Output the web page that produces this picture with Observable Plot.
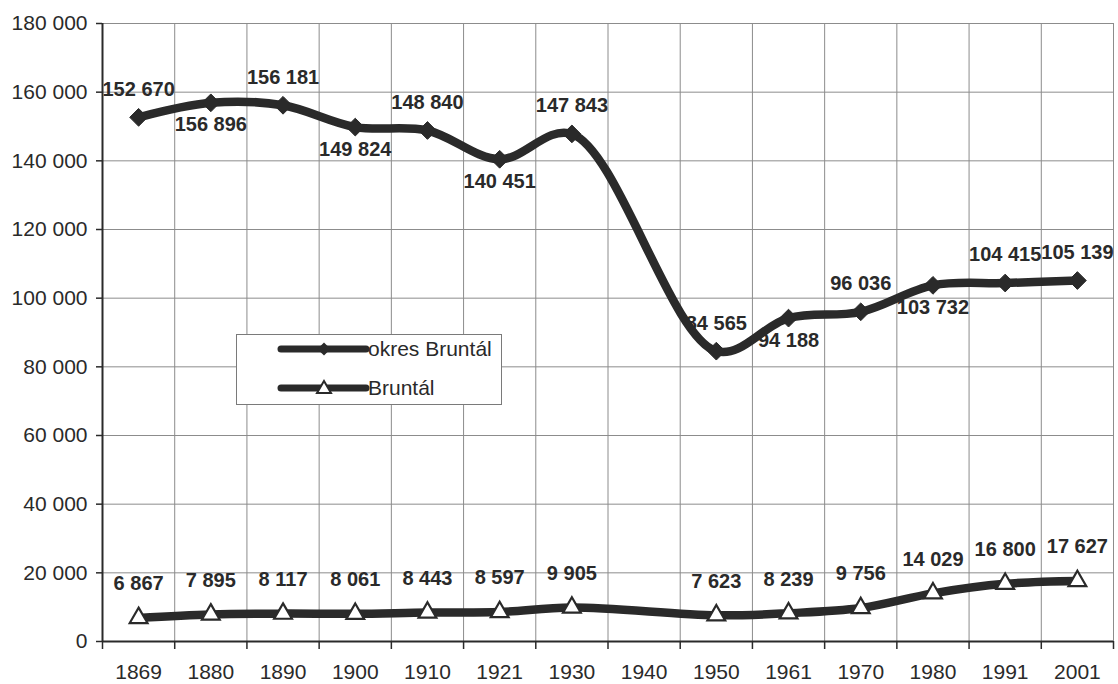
<!DOCTYPE html>
<html>
<head>
<meta charset="utf-8">
<script src="https://cdn.jsdelivr.net/npm/d3@7"></script>
<script src="https://cdn.jsdelivr.net/npm/@observablehq/plot@0.6"></script>
<style>
  html, body { margin: 0; padding: 0; background: #fff; }
  #wrap { position: relative; width: 1118px; height: 684px; font-family: "Liberation Sans", Arial, sans-serif; color: #2a2a2a; }
  #legend { position: absolute; left: 236px; top: 334px; width: 266px; height: 71px; background: #fff; border: 1px solid #7a7a7a; box-sizing: border-box; }
  #legend svg { position: absolute; left: 0; top: 0; }
</style>
</head>
<body>
<div id="wrap"></div>
<script>
// ---- data ----
const years   = ["1869","1880","1890","1900","1910","1921","1930","1940","1950","1961","1970","1980","1991","2001"];
const okres   = [152670,156896,156181,149824,148840,140451,147843,null,84565,94188,96036,103732,104415,105139];
const bruntal = [6867,7895,8117,8061,8443,8597,9905,null,7623,8239,9756,14029,16800,17627];
const seriesNames = ["okres Bruntál", "Bruntál"];
const yTicks = [0,20000,40000,60000,80000,100000,120000,140000,160000,180000];

// ---- presentation ----
const ink = "#2a2a2a";
const gridColor = "#8c8c8c";
const fmt = d => d3.format(",")(d).replace(/,/g, " ");
const okresLabelBelow = new Set(["1880","1900","1921","1961","1980"]);

const rows = (vals) => years.map((year, i) => ({i, year, value: vals[i]})).filter(d => d.value != null);
const okresRows = rows(okres);
const bruntalRows = rows(bruntal);
const centers = years.map((_, i) => i);
const bounds = d3.range(-0.5, years.length, 1);      // category boundaries
const innerBounds = bounds.slice(1);

const chart = Plot.plot({
  width: 1118,
  height: 684,
  marginLeft: 102,
  marginRight: 5,
  marginTop: 23,
  marginBottom: 43,
  style: { fontFamily: "'Liberation Sans', Arial, sans-serif", fontSize: "21px", color: ink, background: "#fff", overflow: "visible" },
  x: { type: "linear", domain: [-0.5, years.length - 0.5], axis: null },
  y: { domain: [0, 180000], axis: null },
  marks: [
    // grid
    Plot.ruleY(yTicks.slice(1), { stroke: gridColor, strokeWidth: 1 }),
    Plot.ruleX(innerBounds, { stroke: gridColor, strokeWidth: 1 }),
    // axes
    Plot.axisY({ ticks: yTicks, tickSize: 6, tickPadding: 9, tickFormat: fmt, fontSize: 21, stroke: ink, strokeWidth: 1.5, label: null }),
    Plot.axisX({ ticks: bounds, tickSize: 8, tickFormat: () => "", stroke: ink, strokeWidth: 1.5, label: null }),
    Plot.axisX({ ticks: centers, tickSize: 0, tickPadding: 23, tickFormat: i => years[i], fontSize: 21, label: null }),
    Plot.ruleX([-0.5], { stroke: ink, strokeWidth: 2 }),
    Plot.ruleY([0], { stroke: ink, strokeWidth: 2 }),
    // data labels (drawn under the lines, as in the original)
    Plot.text(okresRows.filter(d => !okresLabelBelow.has(d.year)), { x: "i", y: "value", text: d => fmt(d.value), dy: -28, fontWeight: "bold", fontSize: 20, fill: ink }),
    Plot.text(okresRows.filter(d => okresLabelBelow.has(d.year)), { x: "i", y: "value", text: d => fmt(d.value), dy: 22, fontWeight: "bold", fontSize: 20, fill: ink }),
    Plot.text(bruntalRows, { x: "i", y: "value", text: d => fmt(d.value), dy: -34, fontWeight: "bold", fontSize: 20, fill: ink }),
    // lines
    Plot.line(okresRows, { x: "i", y: "value", stroke: ink, strokeWidth: 8.5, curve: "catmull-rom" }),
    Plot.line(bruntalRows, { x: "i", y: "value", stroke: ink, strokeWidth: 8.5, curve: "catmull-rom" }),
    // markers
    Plot.dot(okresRows, { x: "i", y: "value", symbol: "diamond2", r: 8, fill: ink, stroke: ink, strokeWidth: 1 }),
    Plot.dot(bruntalRows, { x: "i", y: "value", symbol: "triangle", r: 6.6, fill: "#fff", stroke: ink, strokeWidth: 2.2 })
  ]
});

const wrap = document.getElementById("wrap");
wrap.appendChild(chart);

// ---- legend (overlay box inside the plot area) ----
const legend = d3.select(wrap).append("div").attr("id", "legend");
const lsvg = legend.append("svg").attr("width", 266).attr("height", 71);
const rowsY = [14, 53];
seriesNames.forEach((name, k) => {
  const g = lsvg.append("g").attr("transform", `translate(0,${rowsY[k]})`);
  g.append("line").attr("x1", 44).attr("x2", 129).attr("y1", 0).attr("y2", 0)
    .attr("stroke", ink).attr("stroke-width", 7).attr("stroke-linecap", "round");
  if (k === 0) {
    g.append("path").attr("d", d3.symbol(d3.symbolDiamond2, 110)()).attr("transform", "translate(87,0)").attr("fill", ink);
  } else {
    g.append("path").attr("d", d3.symbol(d3.symbolTriangle, 85)()).attr("transform", "translate(87,1)")
      .attr("fill", "#fff").attr("stroke", ink).attr("stroke-width", 2);
  }
  g.append("text").attr("x", 131).attr("y", 0).attr("dy", "0.35em")
    .attr("font-size", 21).attr("fill", ink).attr("font-family", "'Liberation Sans', Arial, sans-serif")
    .text(name);
});
</script>
</body>
</html>
